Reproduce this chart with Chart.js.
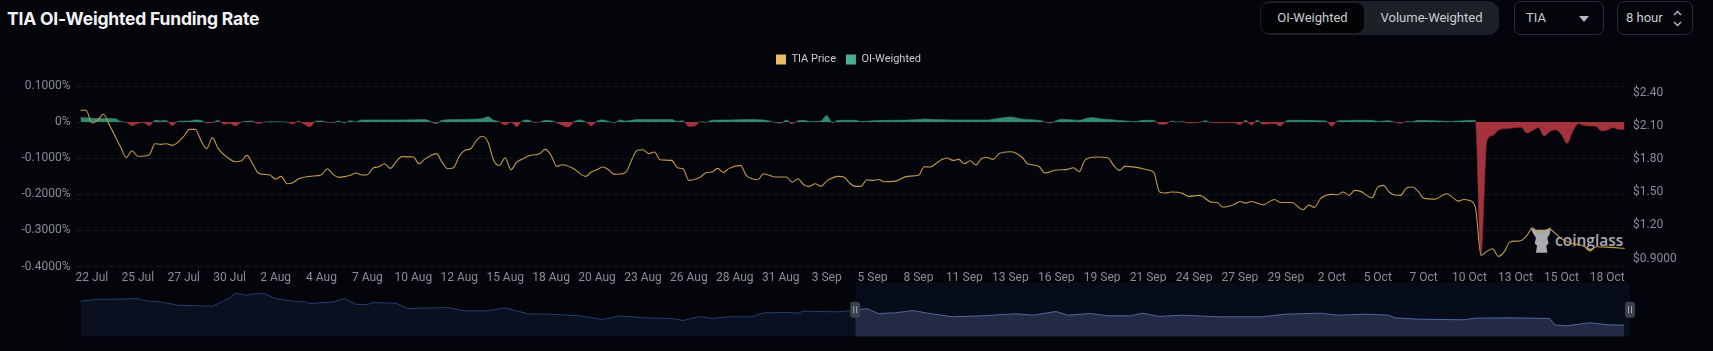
<!DOCTYPE html>
<html>
<head>
<meta charset="utf-8">
<title>TIA OI-Weighted Funding Rate</title>
<script src="https://cdn.jsdelivr.net/npm/chart.js@4"></script>
<style>
  html, body { margin: 0; width: 1713px; height: 351px; overflow: hidden; background: #04050a; font-family: Roboto, sans-serif; }
  h1 { position: absolute; left: 7px; top: 6px; margin: 0; font: 700 17.5px/26px Inter, sans-serif; letter-spacing: -0.2px; color: #f2f3f5; }
  canvas { position: absolute; left: 0; z-index: 2; }
  #main { top: 0; }
  #nav { top: 280px; }
  .box { position: absolute; top: 1px; height: 32px; box-sizing: content-box; border: 1px solid #2a2d34; border-radius: 7px; color: #c9ccd1; font-size: 13px; line-height: 32px; }
  #toggle { left: 1260px; width: 239px; height: 34px; border: 0; border-radius: 11px; background: #1d2026; }
  #toggle span { position: absolute; top: 1px; height: 32px; text-align: center; }
  #toggle .on { left: 1px; width: 103px; height: 30px; top: 2px; line-height: 30px; background: #020305; border-radius: 8px; }
  #toggle .off { left: 104px; width: 135px; }
  #coin { left: 1514px; padding-left: 11px; width: 77px; }
  #coin i { position: absolute; right: 14px; top: 14px; width: 0; height: 0; border: 5.5px solid transparent; border-top: 6px solid #b9bcc2; border-bottom: 0; }
  #interval { left: 1617px; width: 66px; padding-left: 8px; }
  #interval svg { position: absolute; right: 10px; top: 8px; }
  #mark { position: absolute; left: 1530px; top: 228px; width: 100px; height: 26px; z-index: 1; color: #a9abaf; font: 600 15.5px/26px "Open Sans", sans-serif; }
  #mark svg { position: absolute; left: -1px; top: -2px; }
  #mark span { position: absolute; left: 25px; top: -1px; }
</style>
</head>
<body>
<h1>TIA OI-Weighted Funding Rate</h1>
<div class="box" id="toggle"><span class="on">OI-Weighted</span><span class="off">Volume-Weighted</span></div>
<div class="box" id="coin">TIA<i></i></div>
<div class="box" id="interval">8 hour<svg width="9" height="17" viewBox="0 0 9 17" fill="none" stroke="#b9bcc2" stroke-width="1.4"><path d="M1 5l3.5-3.5L8 5M1 12l3.5 3.5L8 12"/></svg></div>
<div id="mark">
  <svg width="23" height="28" viewBox="0 0 20 24" fill="#a9abaf"><path d="M1 1l4 2h10l4-2-1 6-2 3 1 5-2 2 1 6H6l1-6-2-2 1-5-2-3z"/></svg>
  <span>coinglass</span>
</div>
<canvas id="main" width="1713" height="289"></canvas>
<canvas id="nav" width="1713" height="71"></canvas>

<script>
const xTickLabels = ['22 Jul', '25 Jul', '27 Jul', '30 Jul', '2 Aug', '4 Aug', '7 Aug', '10 Aug', '12 Aug', '15 Aug', '18 Aug', '20 Aug',
  '23 Aug', '26 Aug', '28 Aug', '31 Aug', '3 Sep', '5 Sep', '8 Sep', '11 Sep', '13 Sep', '16 Sep', '19 Sep', '21 Sep',
  '24 Sep', '27 Sep', '29 Sep', '2 Oct', '5 Oct', '7 Oct', '10 Oct', '13 Oct', '15 Oct', '18 Oct'];
const rateTicks = [0.1, 0, -0.1, -0.2, -0.3, -0.4];
const priceTicks = [2.4, 2.1, 1.8, 1.5, 1.2, 0.9];

// 8 hour bars counted from the left edge of the chart
const priceBars = [
  0, 1, 2, 3, 4, 5, 7, 8, 9, 10,
  12, 13, 14, 15, 16, 18, 19, 20, 21, 22,
  23, 24, 26, 27, 28, 29, 30, 31, 32, 33,
  34, 35, 36, 37, 38, 40, 42, 43, 44, 45,
  46, 47, 48, 49, 50, 51, 52, 53, 54, 55,
  56, 58, 59, 60, 61, 62, 63, 64, 65, 66,
  67, 68, 69, 70, 71, 72, 73, 74, 75, 76,
  77, 78, 80, 81, 82, 83, 84, 86, 88, 89,
  90, 91, 92, 93, 94, 95, 96, 97, 98, 99,
  100, 101, 103, 104, 105, 106, 108, 109, 110, 111,
  112, 113, 115, 116, 117, 118, 119, 121, 123, 124,
  125, 126, 127, 128, 129, 130, 132, 133, 134, 135,
  136, 137, 138, 139, 140, 142, 144, 146, 147, 148,
  149, 150, 151, 152, 153, 154, 155, 156, 157, 158,
  159, 160, 162, 164, 165, 167, 168, 170, 172, 173,
  174, 175, 177, 179, 180, 181, 182, 184, 186, 187,
  188, 189, 190, 192, 193, 195, 197, 198, 199, 201,
  202, 203, 204, 206, 208, 209, 211, 213, 214, 215,
  216, 218, 219, 220, 221, 222, 223, 225, 226, 227,
  228, 229, 230, 231, 232, 233, 234, 236, 238, 239,
  240, 241, 242, 243, 244, 245, 246, 247, 248, 249,
  250, 251, 252, 253, 254, 255, 256, 257, 258, 259,
  260, 261, 262, 263, 264, 266, 269];
const priceValues = [
  2.241, 2.241, 2.126, 2.15, 2.205, 2.114, 1.909, 1.815, 1.876, 1.825,
  1.84, 1.939, 1.933, 1.939, 1.924, 2.006, 2.069, 2.069, 1.969, 1.894,
  1.994, 1.894, 1.80, 1.776, 1.782, 1.834, 1.758, 1.674, 1.662, 1.656,
  1.619, 1.644, 1.577, 1.586, 1.622, 1.644, 1.659, 1.713, 1.662, 1.635,
  1.641, 1.653, 1.674, 1.656, 1.659, 1.719, 1.731, 1.758, 1.716, 1.776,
  1.822, 1.819, 1.758, 1.80, 1.831, 1.849, 1.773, 1.713, 1.722, 1.825,
  1.879, 1.894, 1.969, 2.006, 1.954, 1.788, 1.743, 1.812, 1.704, 1.773,
  1.80, 1.828, 1.849, 1.888, 1.834, 1.734, 1.749, 1.71, 1.644, 1.683,
  1.704, 1.728, 1.704, 1.662, 1.665, 1.68, 1.788, 1.879, 1.885, 1.849,
  1.864, 1.794, 1.788, 1.722, 1.71, 1.607, 1.638, 1.677, 1.683, 1.716,
  1.68, 1.716, 1.743, 1.653, 1.622, 1.613, 1.668, 1.638, 1.638, 1.592,
  1.622, 1.568, 1.553, 1.577, 1.553, 1.601, 1.644, 1.638, 1.583, 1.553,
  1.553, 1.613, 1.607, 1.616, 1.595, 1.601, 1.644, 1.653, 1.731, 1.728,
  1.758, 1.794, 1.81, 1.788, 1.797, 1.758, 1.785, 1.746, 1.806, 1.815,
  1.797, 1.849, 1.867, 1.819, 1.758, 1.734, 1.674, 1.701, 1.707, 1.722,
  1.686, 1.791, 1.819, 1.81, 1.743, 1.698, 1.734, 1.725, 1.701, 1.68,
  1.502, 1.493, 1.502, 1.49, 1.463, 1.472, 1.411, 1.408, 1.366, 1.39,
  1.417, 1.402, 1.417, 1.387, 1.435, 1.408, 1.408, 1.342, 1.384, 1.363,
  1.441, 1.481, 1.478, 1.502, 1.472, 1.517, 1.508, 1.45, 1.547, 1.562,
  1.502, 1.475, 1.472, 1.538, 1.547, 1.511, 1.447, 1.438, 1.487, 1.456,
  1.42, 1.435, 1.426, 1.366, 0.929, 0.965, 0.989, 0.92, 0.959, 1.049,
  1.058, 1.064, 1.11, 1.179, 1.131, 1.155, 1.164, 1.125, 1.079, 1.055,
  1.034, 1.028, 1.01, 0.968, 1.007, 1.004, 0.992];

const rateBars = [
  0, 2, 4, 6, 7, 8, 9, 10, 11, 12,
  13, 14, 15, 16, 17, 19, 20, 21, 22, 23,
  24, 25, 26, 27, 28, 29, 30, 31, 32, 33,
  35, 36, 37, 38, 39, 40, 41, 42, 43, 44,
  45, 46, 47, 48, 49, 52, 56, 60, 62, 63,
  66, 68, 70, 71, 72, 73, 74, 75, 76, 77,
  78, 79, 80, 81, 82, 83, 85, 86, 87, 88,
  89, 90, 91, 93, 94, 95, 97, 100, 103, 104,
  105, 106, 107, 108, 109, 110, 113, 116, 119, 122,
  123, 124, 125, 126, 127, 128, 129, 130, 131, 132,
  134, 135, 136, 138, 142, 146, 147, 149, 152, 158,
  160, 162, 164, 167, 169, 170, 171, 174, 176, 178,
  180, 184, 185, 187, 188, 189, 190, 191, 192, 193,
  195, 196, 197, 201, 202, 203, 204, 205, 206, 208,
  209, 210, 211, 217, 218, 219, 225, 226, 228, 229,
  230, 231, 232, 233, 239, 240, 243, 244, 245, 246,
  247, 248, 249, 250, 251, 252, 253, 254, 255, 256,
  257, 258, 259, 260, 261, 262, 263, 264, 265, 266,
  267, 268, 269];
const rateValues = [
  0.0125, 0.0106, 0.0097, 0.0097, 0.0014, -0.0005, -0.0097, -0.003, -0.0014, -0.0097,
  0.005, 0.003, 0.005, -0.0097, 0.0023, 0.003, 0.006, 0.005, -0.0023, -0.0014,
  0.005, -0.006, -0.004, -0.0106, 0, 0.002, 0.003, -0.004, 0, 0.001,
  0.001, 0, -0.005, 0.003, -0.006, -0.013, 0.003, 0.003, -0.0005, -0.0014,
  0.003, -0.0023, 0.004, 0.0005, 0.006, 0.006, 0.006, 0.007, -0.004, 0.005,
  0.007, 0.008, 0.0097, 0.015, 0.005, 0.0014, -0.008, 0, -0.0125, 0.004,
  0.006, -0.0005, 0, 0.005, 0.004, -0.002, -0.0134, 0.0014, 0.006, 0.001,
  -0.0097, 0.003, 0.006, -0.0014, 0.006, 0.003, 0.007, 0.007, 0.007, 0.002,
  0.004, -0.012, -0.011, 0.0014, -0.0005, 0.005, 0.006, 0.007, 0.006, -0.003,
  0.006, -0.005, 0.004, 0.005, 0.002, 0.002, 0.003, 0.018, -0.0014, 0.005,
  0.005, 0.005, 0.0014, 0.004, 0.005, 0.007, 0.0088, 0.007, 0.006, 0.006,
  0.0106, 0.0143, 0.0088, 0.005, -0.0023, 0.004, 0.008, 0.005, 0.0125, 0.0088,
  0.006, 0.0014, 0.005, 0.005, -0.006, -0.006, 0.003, 0, 0.002, -0.0023,
  -0.0005, 0.004, -0.0014, -0.002, -0.007, 0.006, -0.008, 0.006, -0.006, -0.004,
  -0.0106, 0.003, 0.005, 0.003, -0.0115, 0.004, 0.005, 0.002, 0.004, -0.0005,
  -0.003, 0.002, 0.001, 0.005, 0.002, 0.003, 0.005, -0.366, -0.052, -0.037,
  -0.0226, -0.018, -0.017, -0.015, -0.014, -0.03, -0.0226, -0.015, -0.038, -0.026,
  -0.021, -0.034, -0.0586, -0.024, -0.004, -0.0097, -0.0106, -0.0115, -0.024, -0.0217,
  -0.015, -0.02, -0.02];

const navBars = [
  0, 3, 6, 10, 11, 14, 17, 23, 24, 26,
  27, 29, 30, 32, 34, 38, 39, 40, 44, 46,
  48, 50, 51, 55, 57, 64, 67, 71, 74, 78,
  82, 87, 91, 94, 98, 103, 105, 108, 110, 113,
  117, 119, 123, 125, 126, 132, 135, 137, 139, 142,
  145, 148, 152, 157, 163, 166, 170, 172, 176, 179,
  183, 185, 188, 192, 198, 206, 210, 216, 219, 224,
  228, 229, 233, 241, 243, 249, 256, 257, 259, 263,
  266, 269];
const navValues = [
  1.07, 1.13, 1.13, 1.15, 1.09, 1.05, 0.95, 0.92, 1.0, 1.17,
  1.31, 1.25, 1.29, 1.3, 1.15, 1.05, 1.07, 1.0, 1.05, 1.15,
  0.98, 0.97, 1.03, 1.01, 0.85, 0.88, 0.78, 0.78, 0.87, 0.69,
  0.68, 0.63, 0.52, 0.63, 0.57, 0.55, 0.49, 0.61, 0.55, 0.6,
  0.6, 0.72, 0.73, 0.71, 0.77, 0.75, 0.8, 0.85, 0.7, 0.72,
  0.79, 0.7, 0.6, 0.63, 0.69, 0.65, 0.76, 0.65, 0.7, 0.63,
  0.63, 0.71, 0.61, 0.65, 0.6, 0.6, 0.68, 0.71, 0.65, 0.68,
  0.65, 0.57, 0.53, 0.51, 0.56, 0.57, 0.55, 0.35, 0.33, 0.42,
  0.36, 0.35];
const zoomStart = 135;
const zoomEnd = 270;

const toPoints = (bars, values) => bars.map((x, i) => ({ x, y: values[i] }));
const tickFont = { family: 'Roboto', size: 12 };
const tickColor = '#8a8d93';

// leaves a gap between the legend and the plot
const legendGap = {
  id: 'legendGap',
  beforeLayout(chart) {
    const legend = chart.legend;
    const fit = legend.fit;
    legend.fit = function () {
      fit.call(this);
      this.height += 11;
    };
  },
};

new Chart(document.getElementById('main'), {
  type: 'line',
  data: {
    datasets: [
      {
        label: 'TIA Price',
        data: toPoints(priceBars, priceValues),
        yAxisID: 'y1',
        borderColor: '#c0994a',
        backgroundColor: '#e6bd63',
        borderWidth: 1.1,
        pointRadius: 0,
        cubicInterpolationMode: 'monotone',
      },
      {
        label: 'OI-Weighted',
        data: toPoints(rateBars, rateValues),
        yAxisID: 'y',
        backgroundColor: '#4cae8d',
        borderWidth: 0.6,
        pointRadius: 0,
        cubicInterpolationMode: 'monotone',
        fill: { target: { value: 0 }, above: '#2f8a70', below: '#a5333e' },
        segment: {
          borderColor: (ctx) => (ctx.p0.parsed.y + ctx.p1.parsed.y >= 0 ? '#2f8a70' : '#a5333e'),
        },
      },
    ],
  },
  options: {
    animation: false,
    responsive: false,
    layout: { padding: { top: 44, right: 16 } },
    plugins: {
      tooltip: { enabled: false },
      legend: {
        position: 'top',
        labels: {
          boxWidth: 10,
          boxHeight: 10,
          padding: 10,
          color: '#c8cbd0',
          font: { family: 'Roboto', size: 11 },
          generateLabels: (chart) => chart.data.datasets.map((ds, i) => ({
            text: ds.label,
            fillStyle: ds.backgroundColor,
            lineWidth: 0,
            fontColor: '#c8cbd0',
            datasetIndex: i,
          })),
        },
      },
    },
    scales: {
      x: {
        type: 'linear',
        min: -0.68,
        max: 269.6,
        grid: { display: false, drawTicks: false },
        border: { display: false },
        afterBuildTicks: (scale) => { scale.ticks = xTickLabels.map((_, i) => ({ value: 2 + i * 8 })); },
        ticks: {
          color: tickColor,
          font: tickFont,
          maxRotation: 0,
          autoSkip: false,
          padding: 4,
          callback: (v) => xTickLabels[(v - 2) / 8],
        },
      },
      y: {
        min: -0.4,
        max: 0.1,
        afterFit: (scale) => { scale.width = 76.5; },
        afterBuildTicks: (scale) => { scale.ticks = rateTicks.map((value) => ({ value })); },
        grid: { color: 'rgba(255,255,255,0.09)', tickLength: 0, drawTicks: false },
        border: { display: false, dash: [4, 4] },
        ticks: {
          color: tickColor,
          font: tickFont,
          padding: 6,
          callback: (v) => (v === 0 ? '0%' : v.toFixed(4) + '%'),
        },
      },
      y1: {
        position: 'right',
        min: 0.8276,
        max: 2.461,
        afterFit: (scale) => { scale.width = 69; },
        afterBuildTicks: (scale) => { scale.ticks = priceTicks.map((value) => ({ value })); },
        grid: { display: false, drawTicks: false },
        border: { display: false },
        ticks: {
          color: tickColor,
          font: tickFont,
          padding: 5,
          callback: (v) => (v === 0.9 ? '$0.9000' : '$' + v.toFixed(2)),
        },
      },
    },
  },
  plugins: [legendGap],
});

// navigator strip under the chart, with the selected window and its handles
const zoomWindow = {
  id: 'zoomWindow',
  beforeDatasetsDraw(chart) {
    const { ctx, chartArea, scales } = chart;
    const left = scales.x.getPixelForValue(zoomStart);
    const right = scales.x.getPixelForValue(zoomEnd);
    ctx.fillStyle = '#070c1b';
    ctx.fillRect(left, chartArea.top, right - left, chartArea.bottom - chartArea.top);
  },
  afterDatasetsDraw(chart) {
    const { ctx, chartArea, scales } = chart;
    const midY = (chartArea.top + chartArea.bottom) / 2;
    [zoomStart, zoomEnd].forEach((bar) => {
      const x = scales.x.getPixelForValue(bar);
      ctx.fillStyle = '#3b404d';
      ctx.beginPath();
      ctx.roundRect(x - 5, midY - 8, 10, 16, 3);
      ctx.fill();
      ctx.fillStyle = '#a6a9b0';
      ctx.fillRect(x - 2, midY - 3.5, 1, 7);
      ctx.fillRect(x + 1, midY - 3.5, 1, 7);
    });
  },
};

new Chart(document.getElementById('nav'), {
  type: 'line',
  data: {
    datasets: [
      {
        data: toPoints(navBars, navValues).filter((p) => p.x >= zoomStart),
        borderColor: '#4e679f',
        backgroundColor: '#232a44',
        borderWidth: 1,
        pointRadius: 0,
        fill: 'origin',
      },
      {
        data: toPoints(navBars, navValues).filter((p) => p.x <= zoomStart),
        borderColor: '#263f70',
        backgroundColor: '#0a1020',
        borderWidth: 1,
        pointRadius: 0,
        fill: 'origin',
      },
    ],
  },
  options: {
    animation: false,
    responsive: false,
    layout: { padding: { left: 80.4, right: 83, top: 2.7, bottom: 14.3 } },
    plugins: { legend: { display: false }, tooltip: { enabled: false } },
    scales: {
      x: { type: 'linear', min: 0, max: zoomEnd, display: false },
      y: { min: 0, max: 1.63, display: false },
    },
  },
  plugins: [zoomWindow],
});
</script>
</body>
</html>
